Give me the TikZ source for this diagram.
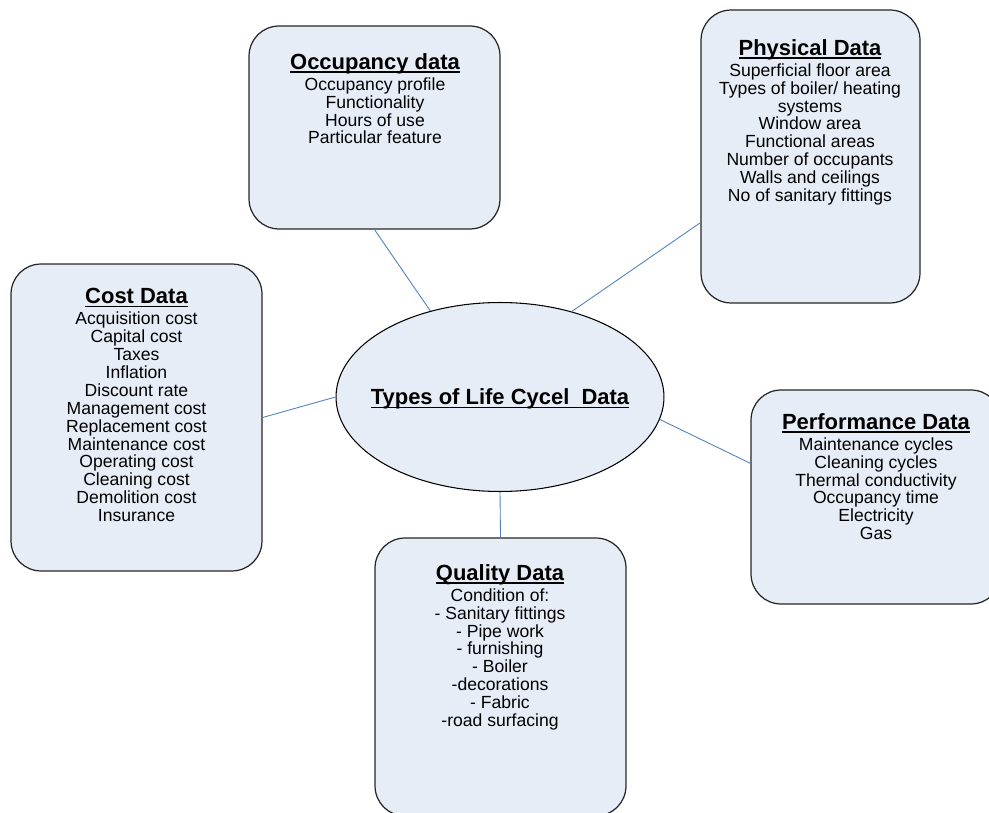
\documentclass[tikz,border=0pt]{standalone}
\usepackage{fontspec}
\usepackage{xcolor}
\usetikzlibrary{shapes.geometric}
\setmainfont{Liberation Sans}
\definecolor{boxfill}{RGB}{231, 237, 247}
\definecolor{linkblue}{RGB}{79, 129, 189}
\newlength{\titlewd}
\newcommand{\datatitle}[1]{{\fontsize{12.5}{13}\selectfont\bfseries\settowidth{\titlewd}{#1}%
  \raisebox{0pt}[\height][0pt]{\rlap{\rule[-1.9pt]{\titlewd}{0.85pt}}#1}}}

\begin{document}
\begin{tikzpicture}[x=0.02cm, y=-0.02cm,
  databox/.style={rectangle, draw=black!85, line width=0.7pt, fill=boxfill, rounded corners=0.6cm, inner sep=0pt},
  datatext/.style={anchor=north, align=center, inner sep=0pt, font=\fontsize{10}{10.2}\selectfont},
  link/.style={draw=linkblue, line width=0.5pt}]
\clip (0,0) rectangle (989,813);

% Zentrum
\node[ellipse, draw=black, line width=0.6pt, fill=boxfill, minimum width=6.56cm, minimum height=3.78cm, inner sep=0pt] (ctr) at (500,397) {};
\node[inner sep=0pt] (ctrtxt) at (ctr.center) {\datatitle{Types of Life Cycel\ \ Data}};

% Kaesten
\node[databox, minimum width=5.02cm, minimum height=4.06cm] (occ) at (374.5,127.5) {};
\node[databox, minimum width=4.38cm, minimum height=5.86cm] (phy) at (810.5,156.5) {};
\node[databox, minimum width=5.02cm, minimum height=6.14cm] (cost) at (136.5,417.5) {};
\node[databox, minimum width=5.00cm, minimum height=4.28cm] (perf) at (876,497) {};
\node[databox, minimum width=5.02cm, minimum height=5.56cm] (qual) at (500.5,677) {};

% Texte
\node[datatext] (occtxt) at (375,53) {\datatitle{Occupancy data}\\[1.7pt]
  Occupancy profile\\ Functionality\\ Hours of use\\ Particular feature};
\node[datatext] (phytxt) at (810,39) {\datatitle{Physical Data}\\[1.7pt]
  Superficial floor area\\ Types of boiler/ heating\\ systems\\ Window area\\
  Functional areas\\ Number of occupants\\ Walls and ceilings\\ No of sanitary fittings};
\node[datatext] (costtxt) at (136.5,288) {\datatitle{Cost Data}\\[1.7pt]
  Acquisition cost\\ Capital cost\\ Taxes\\ Inflation\\ Discount rate\\
  Management cost\\ Replacement cost\\ Maintenance cost\\ Operating cost\\
  Cleaning cost\\ Demolition cost\\ Insurance};
\node[datatext] (perftxt) at (876,413) {\datatitle{Performance Data}\\[1.7pt]
  Maintenance cycles\\ Cleaning cycles\\ Thermal conductivity\\ Occupancy time\\
  Electricity\\ Gas};
\node[datatext] (qualtxt) at (500,564) {\datatitle{Quality Data}\\[1.7pt]
  Condition of:\\ - Sanitary fittings\\ - Pipe work\\ - furnishing\\ - Boiler\\
  -decorations\\ - Fabric\\ -road surfacing};

% Verbindungen
\draw[link] (occ.south) -- (ctr.129.8);
\draw[link] (phy.211.65) -- (ctr.50.5);
\draw[link] (cost.east) -- (ctr.west);
\draw[link] (perf.165.2) -- (ctr.352);
\draw[link] (qual.north) -- (ctr.south);
\end{tikzpicture}
\end{document}
